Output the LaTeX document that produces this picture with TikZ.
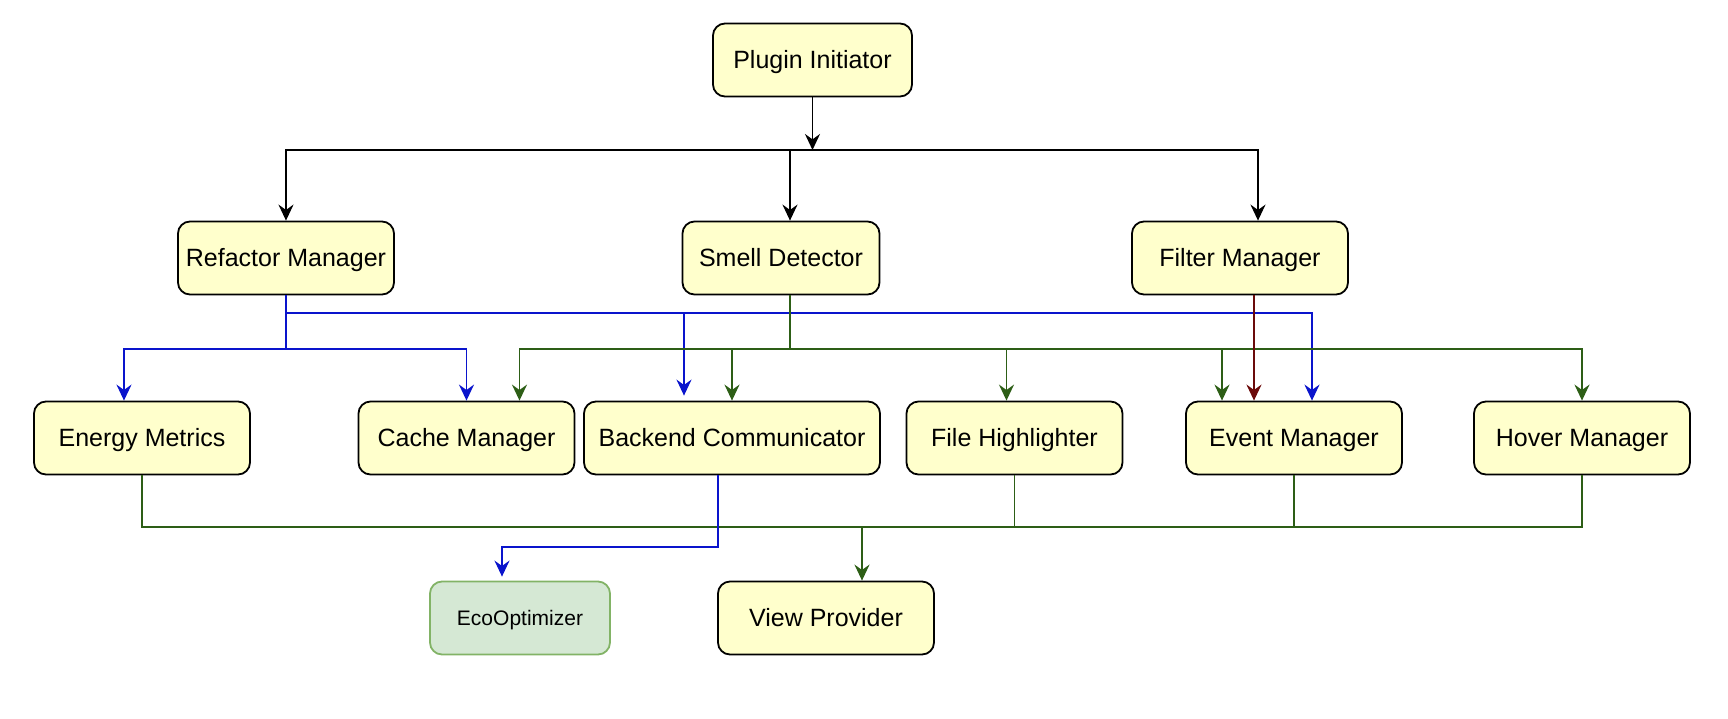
\documentclass[tikz,border=0pt]{standalone}
\usepackage{fontspec}
\setmainfont{Liberation Sans}
\usepackage{xcolor}
\usetikzlibrary{arrows.meta}

\definecolor{boxfill}{HTML}{FFFFCC}
\definecolor{ecofill}{HTML}{D5E8D4}
\definecolor{ecodraw}{HTML}{82B366}
\definecolor{refblue}{HTML}{0A14CC}
\definecolor{smellgreen}{HTML}{2D5E16}
\definecolor{filterred}{HTML}{6B0A0A}

\begin{document}
\begin{tikzpicture}[node distance=90pt]
    \tikzstyle{module} = [rectangle, rounded corners=6pt, minimum width=108pt, minimum height=36.5pt, text height=8.95pt, text depth=0pt, text centered, draw=black, line width=0.9pt, fill=boxfill, font=\fontsize{12.5}{15}\selectfont]
    \tikzstyle{external} = [rectangle, rounded corners=6pt, minimum width=90pt, minimum height=36.5pt, text height=7.5pt, text depth=0pt, text centered, draw=ecodraw, line width=0.9pt, fill=ecofill, font=\fontsize{10.5}{13}\selectfont]
    \tikzstyle{arrow} = [line width=0.95pt,->,>={Stealth[length=8pt,width=7.5pt,inset=2.7pt]}]
    \tikzstyle{bluearrow} = [arrow, draw=refblue]
    \tikzstyle{greenarrow} = [arrow, draw=smellgreen]
    \tikzstyle{redarrow} = [arrow, draw=filterred]
    \tikzstyle{greenline} = [line width=0.95pt, draw=smellgreen]

    \useasboundingbox (-406.25pt,30pt) rectangle (457.75pt,-329pt);

    \node (plugin) [module, minimum width=99.5pt] {Plugin Initiator};
    \node (refactor) [module, below of=plugin, xshift=-263.25pt, yshift=-9pt] {Refactor Manager};
    \node (smell) [module, minimum width=98.5pt, below of=plugin, xshift=-15.75pt, yshift=-9pt] {Smell Detector};
    \node (filter) [module, below of=plugin, xshift=213.75pt, yshift=-9pt] {Filter Manager};
    \node (energy) [module, below of=refactor, xshift=-72pt] {Energy Metrics};
    \node (cache) [module, below of=refactor, xshift=90.25pt] {Cache Manager};
    \node (backend) [module, minimum width=148pt, below of=smell, xshift=-24.5pt] {Backend Communicator};
    \node (fileh) [module, below of=smell, xshift=116.75pt] {File Highlighter};
    \node (event) [module, below of=filter, xshift=27pt] {Event Manager};
    \node (hover) [module, below of=filter, xshift=171pt] {Hover Manager};
    \node (eco) [external, below of=cache, xshift=26.75pt] {EcoOptimizer};
    \node (view) [module, below of=backend, xshift=47pt] {View Provider};

    \coordinate [below of=plugin, yshift=45pt] (split);
    \coordinate (join) at ([xshift=18pt,yshift=26.75pt]view.north);

    \draw [arrow] (plugin) -- (split);
    \draw [arrow] (split) -| (refactor);
    \draw [arrow] (split) -| ([xshift=4.5pt]smell.north);
    \draw [arrow] (split) -| ([xshift=9pt]filter.north);

    \draw [bluearrow] (refactor.south) -- ++(0,-27pt) -| ([xshift=-9pt]energy.north);
    \draw [bluearrow] (refactor.south) -- ++(0,-27pt) -| (cache.north);
    \draw [bluearrow] (refactor.south) -- ++(0,-9pt) -| ([xshift=-24pt,yshift=2.5pt]backend.north);
    \draw [bluearrow] (refactor.south) -- ++(0,-9pt) -| ([xshift=9pt]event.north);

    \draw [greenarrow] ([xshift=4.5pt]smell.south) -- ++(0,-27pt) -| ([xshift=26.5pt]cache.north);
    \draw [greenarrow] ([xshift=4.5pt]smell.south) -- ++(0,-27pt) -| (backend.north);
    \draw [greenarrow] ([xshift=4.5pt]smell.south) -- ++(0,-27pt) -| ([xshift=-4pt]fileh.north);
    \draw [greenarrow] ([xshift=4.5pt]smell.south) -- ++(0,-27pt) -| ([xshift=-36pt]event.north);
    \draw [greenarrow] ([xshift=4.5pt]smell.south) -- ++(0,-27pt) -| (hover.north);

    \draw [redarrow] ([xshift=7pt]filter.south) -- ([xshift=-20pt]event.north);

    \draw [greenline] (energy.south) |- (join);
    \draw [greenline] (fileh.south) |- (join);
    \draw [greenline] (event.south) |- (join);
    \draw [greenline] (hover.south) |- (join);
    \draw [greenarrow] (join) -- ([xshift=18pt]view.north);

    \draw [bluearrow] ([xshift=-7pt]backend.south) -- ++(0,-36pt) -| ([xshift=-9pt,yshift=2pt]eco.north);
\end{tikzpicture}
\end{document}
